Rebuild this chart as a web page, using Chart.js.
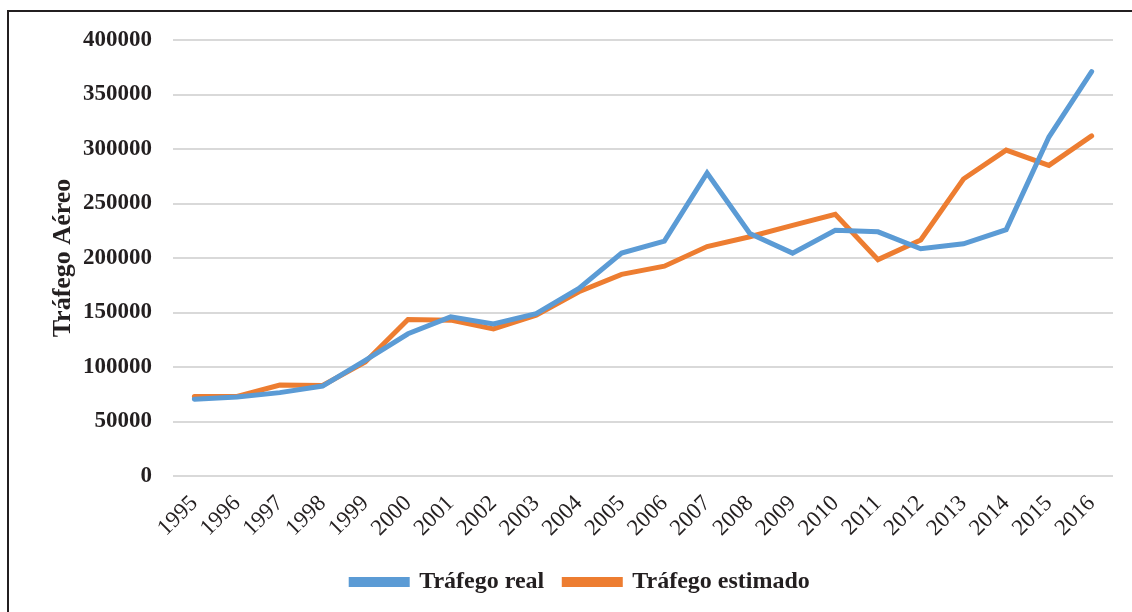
<!DOCTYPE html>
<html lang="es">

<head>
    <meta charset="UTF-8">
    <title>Tráfego Aéreo</title>
    <style>
        html, body { margin: 0; padding: 0; background: #fff; overflow: hidden; }
        .frame {
            position: absolute;
            left: 7px;
            top: 10px;
            width: 1140px;
            height: 620px;
            border: 2px solid #231f20;
        }
        .chart-box {
            position: absolute;
            left: 0;
            top: 0;
            width: 1132px;
            height: 612px;
        }
    </style>
</head>

<body>
    <div class="frame"></div>
    <div class="chart-box">
        <canvas id="trafficChart" width="1132" height="612"></canvas>
    </div>

    <script src="https://cdn.jsdelivr.net/npm/chart.js@4.4.4/dist/chart.umd.min.js"></script>
    <script>
        // data
        const years = ['1995', '1996', '1997', '1998', '1999', '2000', '2001', '2002', '2003', '2004', '2005',
            '2006', '2007', '2008', '2009', '2010', '2011', '2012', '2013', '2014', '2015', '2016'];
        const realTraffic = [70500, 72500, 76500, 82500, 106000, 130500, 146000, 139500, 149000, 172000, 204500,
            215500, 278000, 222500, 204500, 225500, 224000, 208500, 213000, 226000, 311000, 371000];
        const estimatedTraffic = [73000, 73000, 83500, 83000, 104500, 143500, 143000, 135000, 147500, 169000, 185000,
            192500, 210500, 219500, 230000, 240000, 198500, 216500, 272500, 299000, 285000, 312000];
        const yTicks = [0, 50000, 100000, 150000, 200000, 250000, 300000, 350000, 400000];

        const textColor = '#231f20';
        const serif = "'Liberation Serif', 'Times New Roman', serif";

        const ctx = document.getElementById('trafficChart').getContext('2d');
        new Chart(ctx, {
            type: 'line',
            data: {
                labels: years,
                datasets: [{
                    label: 'Tráfego real',
                    data: realTraffic,
                    borderColor: '#5b9bd5',
                    backgroundColor: '#5b9bd5',
                    borderWidth: 5,
                    borderCapStyle: 'round',
                    pointRadius: 0,
                    tension: 0,
                    fill: false
                }, {
                    label: 'Tráfego estimado',
                    data: estimatedTraffic,
                    borderColor: '#ed7d31',
                    backgroundColor: '#ed7d31',
                    borderWidth: 5,
                    borderCapStyle: 'round',
                    pointRadius: 0,
                    tension: 0,
                    fill: false
                }]
            },
            options: {
                responsive: false,
                animation: false,
                layout: {
                    padding: { left: 48, right: 19, top: 40, bottom: 8 }
                },
                plugins: {
                    legend: {
                        position: 'bottom',
                        labels: {
                            boxWidth: 56,
                            boxHeight: 5,
                            padding: 20,
                            color: textColor,
                            font: { family: serif, size: 24, weight: 'bold' }
                        }
                    },
                    tooltip: { enabled: false }
                },
                scales: {
                    x: {
                        offset: true,
                        grid: { display: false },
                        border: { display: false },
                        ticks: {
                            autoSkip: false,
                            minRotation: 45,
                            maxRotation: 45,
                            padding: 6,
                            color: textColor,
                            font: { family: serif, size: 23 }
                        },
                        afterFit: function (scale) {
                            scale.height = 74;
                        }
                    },
                    y: {
                        min: 0,
                        max: 400000,
                        afterBuildTicks: function (scale) {
                            scale.ticks = yTicks.map(v => ({ value: v }));
                        },
                        grid: { color: '#d9d9d9', lineWidth: 2, drawTicks: false },
                        border: { display: false },
                        ticks: {
                            padding: 21,
                            color: textColor,
                            font: { family: serif, size: 23, weight: 'bold' },
                            callback: function (value) {
                                return String(value);
                            }
                        },
                        title: {
                            display: true,
                            text: 'Tráfego Aéreo',
                            color: textColor,
                            padding: { top: 0, bottom: 0 },
                            font: { family: serif, size: 26, weight: 'bold' }
                        },
                        afterFit: function (scale) {
                            scale.width = 125;
                        }
                    }
                }
            }
        });
    </script>
</body>

</html>
